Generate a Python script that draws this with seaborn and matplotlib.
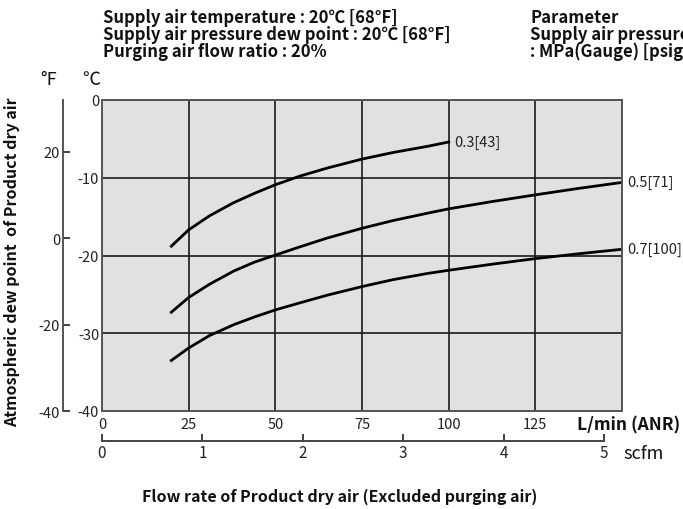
import matplotlib
matplotlib.use("Agg")
import matplotlib.pyplot as plt
import seaborn as sns
import pandas as pd

# ---- data ----
flow_03 = [20, 25, 31, 38, 44, 50, 57, 65, 75, 84, 94, 100]
dew_03 = [-18.8, -16.7, -14.9, -13.2, -12.0, -10.9, -9.8, -8.75, -7.6, -6.75, -5.95, -5.4]
flow_05 = [20, 25, 31, 38, 44, 50, 57, 65, 75, 84, 94, 100, 112, 125, 137, 150]
dew_05 = [-27.3, -25.4, -23.7, -22.0, -20.85, -19.95, -18.9, -17.75, -16.5, -15.5, -14.55,
          -14.0, -13.1, -12.2, -11.4, -10.6]
flow_07 = [20, 25, 31, 38, 44, 50, 57, 65, 75, 84, 94, 100, 112, 125, 137, 150]
dew_07 = [-33.5, -31.9, -30.3, -28.9, -27.9, -27.0, -26.1, -25.1, -24.0, -23.1, -22.3,
          -21.9, -21.15, -20.4, -19.8, -19.2]
series_labels = ["0.3[43]", "0.5[71]", "0.7[100]"]

x_ticks_lmin = [0, 25, 50, 75, 100, 125]
y_ticks_c = [0, -10, -20, -30, -40]
y_ticks_f = [20, 0, -20, -40]
x_ticks_scfm = [0, 1, 2, 3, 4, 5]

header_left = ["Supply air temperature : 20\u2103 [68\u00b0F]",
               "Supply air pressure dew point : 20\u2103 [68\u00b0F]",
               "Purging air flow ratio : 20%"]
header_right = ["Parameter", "Supply air pressure", ": MPa(Gauge) [psig]"]

plt.rcParams["font.family"] = ["Noto Sans CJK JP", "DejaVu Sans"]
plt.rcParams["axes.unicode_minus"] = False

df = pd.concat([
    pd.DataFrame({"flow": flow_03, "dew": dew_03, "p": series_labels[0]}),
    pd.DataFrame({"flow": flow_05, "dew": dew_05, "p": series_labels[1]}),
    pd.DataFrame({"flow": flow_07, "dew": dew_07, "p": series_labels[2]}),
])

fig = plt.figure(figsize=(6.83, 5.10), dpi=100)
W, H = 683, 510
L, R, T, B = 102, 622, 101, 412
ax = fig.add_axes([L / W, 1 - B / H, (R - L) / W, (B - T) / H])
ax.set_facecolor("#e1e1e1")

sns.lineplot(data=df, x="flow", y="dew", hue="p", palette=["black"] * 3,
             linewidth=2.0, legend=False, ax=ax, sort=True)

ax.set_xlim(0, 150)
ax.set_ylim(-40, 0)
ax.set_xticks(x_ticks_lmin)
ax.set_yticks(y_ticks_c)
ax.set_yticklabels([str(v) for v in y_ticks_c])
ax.tick_params(axis="both", length=0, labelsize=10.5, colors="#222")
ax.tick_params(axis="x", pad=4)
ax.tick_params(axis="y", pad=2)
ax.grid(True, color="#1a1a1a", linewidth=1.2)
ax.set_axisbelow(True)
for s in ax.spines.values():
    s.set_color("#555555")
    s.set_linewidth(1.4)
ax.set_xlabel("")
ax.set_ylabel("")

# end labels
ends = [(flow_03[-1], dew_03[-1]), (flow_05[-1], dew_05[-1]), (flow_07[-1], dew_07[-1])]
for (xe, ye), lab in zip(ends, series_labels):
    ax.annotate(lab, (xe, ye), xytext=(4, 0), textcoords="offset points",
                va="center", ha="left", fontsize=10.5, color="#222",
                annotation_clip=False)

# Fahrenheit secondary axis
c2f = lambda c: c * 9 / 5 + 32
f2c = lambda f: (f - 32) * 5 / 9
fax = ax.secondary_yaxis((63 - L) / (R - L), functions=(c2f, f2c))
fax.set_yticks(y_ticks_f)
fax.tick_params(axis="y", direction="in", length=5, width=1.2, labelsize=10.5,
                colors="#222", pad=2)
fax.spines["left"].set_color("#555555")
fax.spines["left"].set_linewidth(1.4)

fig.text(40 / W, 1 - 80 / H, "\u00b0F", fontsize=13, ha="left", va="center", color="#111")
fig.text(82 / W, 1 - 80 / H, "\u2103", fontsize=13, ha="left", va="center", color="#111")

# scfm axis
sax = fig.add_axes([L / W, 1 - 442 / H, (R - L) / W, 0.0001])
sax.set_xlim(0, 5 * (R - L) / (604 - L))
sax.set_yticks([])
sax.set_xticks(x_ticks_scfm)
for k in ["top", "left", "right"]:
    sax.spines[k].set_visible(False)
sax.spines["bottom"].set_bounds(0, 5)
sax.spines["bottom"].set_color("#444")
sax.spines["bottom"].set_linewidth(1.4)
sax.patch.set_visible(False)
sax.tick_params(axis="x", direction="in", length=5, width=1.2, labelsize=11,
                colors="#222", pad=2)

fig.text(577 / W, 1 - 425 / H, "L/min (ANR)", fontsize=12.5, weight="bold",
         ha="left", va="center", color="#111")
fig.text(623 / W, 1 - 454 / H, "scfm", fontsize=13, ha="left", va="center", color="#111")
fig.text(340 / W, 1 - 497 / H, "Flow rate of Product dry air (Excluded purging air)",
         fontsize=11.5, weight="bold", ha="center", va="center", color="#111")
fig.text(12 / W, 1 - 262 / H, "Atmospheric dew point  of Product dry air",
         fontsize=11.5, weight="bold", rotation=90, ha="center", va="center", color="#111")

for i, t in enumerate(header_left):
    fig.text(103 / W, 1 - (18 + 17 * i) / H, t, fontsize=12, weight="bold",
             ha="left", va="center", color="#111")
for i, t in enumerate(header_right):
    fig.text(530 / W, 1 - (18 + 17 * i) / H, t, fontsize=12, weight="bold",
             ha="left", va="center", color="#111")

fig.savefig("out.png", dpi=100, facecolor="white")
